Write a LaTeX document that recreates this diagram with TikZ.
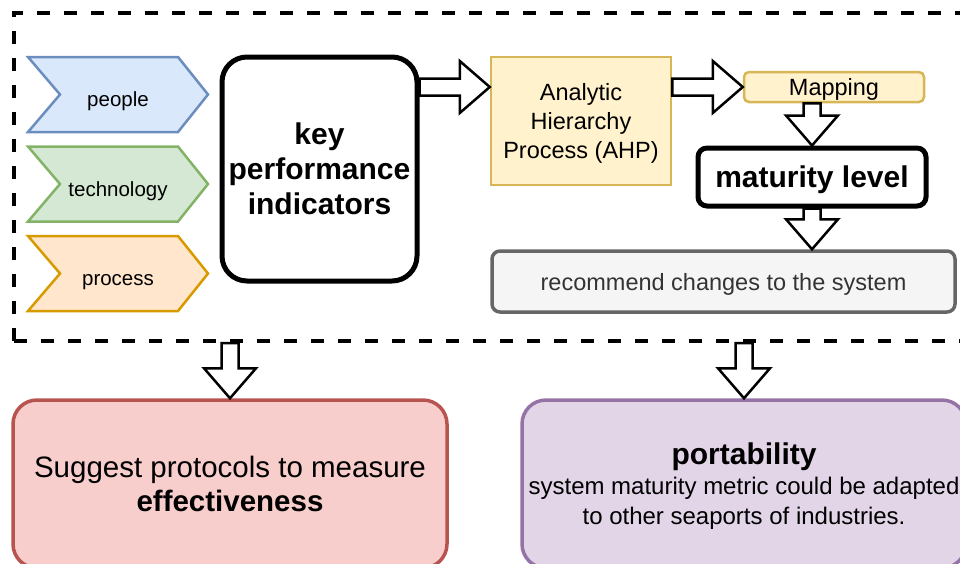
\documentclass[tikz,border=0pt]{standalone}
\usepackage{fontspec}
\setmainfont{Liberation Sans}
\usetikzlibrary{positioning,calc}

\definecolor{peoplefill}{HTML}{DAE8FC}
\definecolor{peopledraw}{HTML}{6C8EBF}
\definecolor{techfill}{HTML}{D5E8D4}
\definecolor{techdraw}{HTML}{82B366}
\definecolor{procfill}{HTML}{FFE6CC}
\definecolor{procdraw}{HTML}{D79B00}
\definecolor{ahpfill}{HTML}{FFF2CC}
\definecolor{ahpdraw}{HTML}{D6B656}
\definecolor{recfill}{HTML}{F5F5F5}
\definecolor{recdraw}{HTML}{666666}
\definecolor{rectext}{HTML}{333333}
\definecolor{effill}{HTML}{F8CECC}
\definecolor{efdraw}{HTML}{B85450}
\definecolor{portfill}{HTML}{E1D5E7}
\definecolor{portdraw}{HTML}{9673A6}

% hollow block arrow from #1 to #2
\newcommand{\fatarrow}[2]{%
  \coordinate (fa head) at ($(#2)!30pt!(#1)$);
  \draw[fat arrow] ($(#1)!8.5pt!90:(#2)$) -- ($(fa head)!8.5pt!90:(#2)$)
    -- ($(fa head)!26pt!90:(#2)$) -- (#2) -- ($(fa head)!26pt!-90:(#2)$)
    -- ($(fa head)!8.5pt!-90:(#2)$) -- ($(#1)!8.5pt!-90:(#2)$) -- cycle;
}

\begin{document}
\begin{tikzpicture}[x=1pt,y=-1pt,
    every node/.style={inner sep=2pt},
    frame/.style={draw,line width=4pt,dash pattern=on 13pt off 14pt,
                  minimum width=961pt,minimum height=328pt},
    chev/.style={line width=2.5pt,line join=miter},
    chevtext/.style={anchor=base,font=\fontsize{20.5}{24}\selectfont},
    kpibox/.style={draw,line width=5pt,rounded corners=25pt,minimum width=195pt,text depth=0pt,
                   minimum height=224pt,align=center,font=\fontsize{30}{35}\selectfont\bfseries},
    ahpbox/.style={draw=ahpdraw,fill=ahpfill,line width=2.5pt,align=center,text depth=0pt,
                   font=\fontsize{23.5}{29}\selectfont},
    levelbox/.style={draw,line width=5pt,rounded corners=9pt,minimum width=228pt,text depth=0pt,
                     minimum height=58pt,font=\fontsize{30}{35}\selectfont\bfseries},
    recbox/.style={draw=recdraw,fill=recfill,text=rectext,line width=3.5pt,rounded corners=8pt,
                   minimum width=463pt,minimum height=61pt,text depth=0pt,
                   font=\fontsize{23.5}{28}\selectfont},
    outbox/.style={line width=3.5pt,rounded corners=24pt,minimum height=168pt,align=center},
    fat arrow/.style={draw,fill=white,line width=2.5pt,line join=miter}
  ]
  \useasboundingbox (0,0) rectangle (960,563);
  \clip (0,0) rectangle (960,563);

  \node[frame] (frame) at (494.5,177) {};

  % the three inputs
  \draw[chev,draw=peopledraw,fill=peoplefill] (28,57) -- (178,57) -- (208,94.5)
    -- (178,132) -- (28,132) -- (60,94.5) -- cycle;
  \draw[chev,draw=techdraw,fill=techfill] (28,146.5) -- (178,146.5) -- (208,184)
    -- (178,221.5) -- (28,221.5) -- (60,184) -- cycle;
  \draw[chev,draw=procdraw,fill=procfill] (28,236) -- (178,236) -- (208,273.5)
    -- (178,311) -- (28,311) -- (60,273.5) -- cycle;
  \node[chevtext] (people) at (118,106.5) {people};
  \node[chevtext] (tech) at (118,196) {technology};
  \node[chevtext] (proc) at (118,285.5) {process};

  \node[kpibox] (kpi) at (319.5,169) {key\\performance\\indicators};
  \node[ahpbox,minimum width=180pt,minimum height=128pt] (ahp) at (581,121)
    {Analytic\\Hierarchy\\Process (AHP)};
  \node[ahpbox,rounded corners=5pt,minimum width=180pt,minimum height=30pt] (mapping)
    at (834,87) {Mapping};
  \node[levelbox] (level) at (812,177) {maturity level};
  \node[recbox] (rec) at (723.5,281.5) {recommend changes to the system};

  \node[outbox,draw=efdraw,fill=effill,minimum width=434pt,
        font=\fontsize{29.5}{34}\selectfont] (effect) at (230,484)
    {Suggest protocols to measure\\\textbf{effectiveness}};
  \node[outbox,draw=portdraw,fill=portfill,minimum width=444pt,text depth=0pt,
        font=\fontsize{24}{30}\selectfont] (port) at (744,484)
    {{\fontsize{30}{30}\selectfont\bfseries portability}\\
     system maturity metric could be adapted\\to other seaports of industries.};

  % block arrows
  \fatarrow{kpi.east |- mapping}{ahp.west |- mapping}
  \fatarrow{ahp.east |- mapping}{mapping.west}
  \fatarrow{level.north |- mapping.south}{level.north}
  \fatarrow{level.south}{level.south |- rec.north}
  \fatarrow{frame.south -| effect.north}{effect.north}
  \fatarrow{frame.south -| port.north}{port.north}
\end{tikzpicture}
\end{document}
